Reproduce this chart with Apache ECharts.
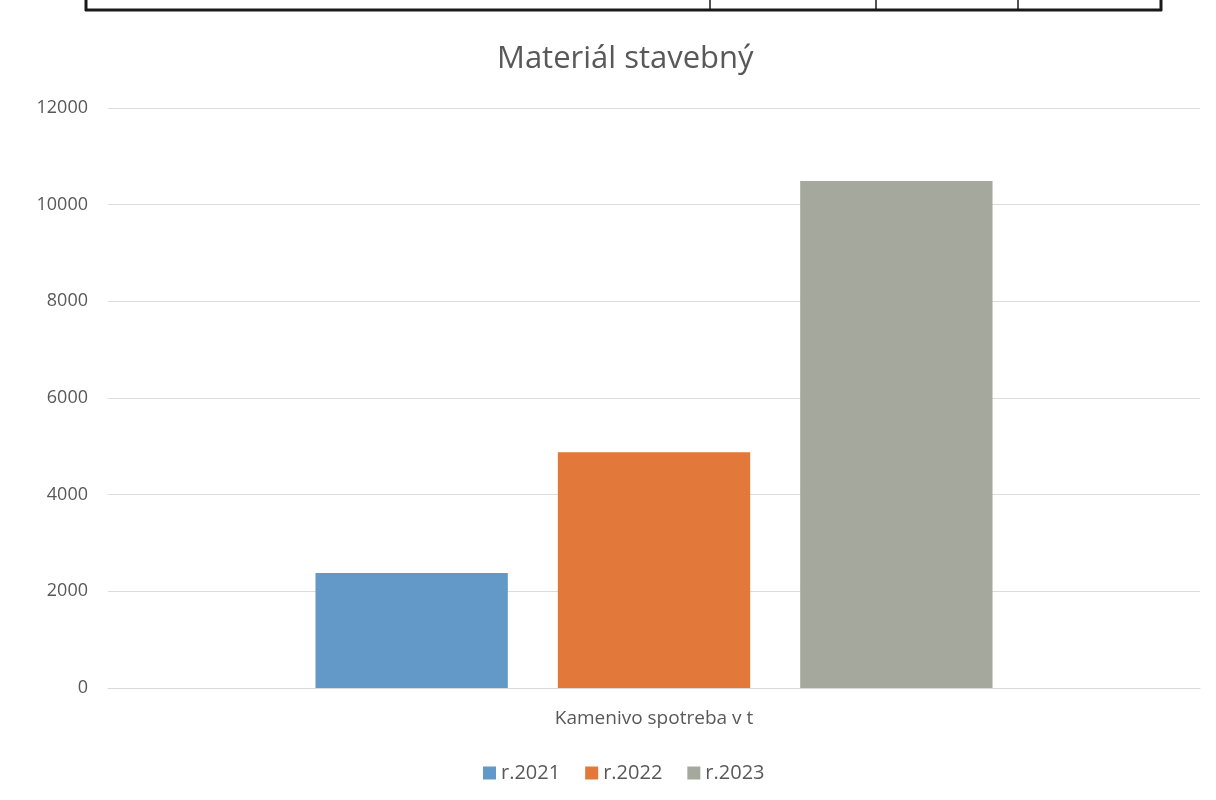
<!DOCTYPE html>
<html>
<head>
<meta charset="utf-8">
<script src="https://cdn.jsdelivr.net/npm/echarts@6/dist/echarts.min.js"></script>
<style>
  html, body { margin: 0; padding: 0; background: #ffffff; }
  #chart { width: 1216px; height: 800px; }
</style>
</head>
<body>
<div id="chart"></div>
<script>
// Consumption of building stone (tonnes) per year
const categories = ['Kamenivo spotreba v t'];
const seriesNames = ['r.2021', 'r.2022', 'r.2023'];
const values2021 = [2380];
const values2022 = [4880];
const values2023 = [10490];
const yTicks = { min: 0, max: 12000, interval: 2000 };
const colors = ['#6399c9', '#e2783a', '#a4a89d'];

const chart = echarts.init(document.getElementById('chart'));
const textColor = '#595959';
const fontFamily = '"Open Sans", "Noto Sans", sans-serif';

const seriesData = [values2021, values2022, values2023];

chart.setOption({
  animation: false,
  backgroundColor: '#ffffff',
  title: {
    text: 'Materiál stavebný',
    left: 492,
    top: 39,
    textStyle: { color: textColor, fontSize: 31, fontWeight: 'normal', fontFamily }
  },
  legend: {
    data: seriesNames,
    bottom: 12,
    left: 478,
    itemWidth: 13,
    itemHeight: 13,
    itemGap: 25,
    icon: 'rect',
    textStyle: { color: textColor, fontSize: 20, fontFamily }
  },
  grid: { left: 108, right: 16, top: 108, bottom: 112, containLabel: false },
  xAxis: {
    type: 'category',
    data: categories,
    axisLine: { show: true, lineStyle: { color: '#d9d9d9' } },
    axisTick: { show: false },
    axisLabel: { color: textColor, fontSize: 19, fontFamily, margin: 21 }
  },
  yAxis: {
    type: 'value',
    min: yTicks.min,
    max: yTicks.max,
    interval: yTicks.interval,
    axisLine: { show: false },
    axisTick: { show: false },
    axisLabel: { color: textColor, fontSize: 18, fontFamily, margin: 20, formatter: (v) => String(v) },
    splitLine: { lineStyle: { color: '#dcdcdc', width: 1 } }
  },
  series: seriesNames.map((name, i) => ({
    name,
    type: 'bar',
    data: seriesData[i],
    itemStyle: { color: colors[i] },
    barGap: '26%',
    barCategoryGap: '38%'
  })),
  graphic: [
    // ruled table edge at the top of the page
    { type: 'line', shape: { x1: 85, y1: 10, x2: 1162, y2: 10 }, style: { stroke: '#1a1a1a', lineWidth: 3 } },
    { type: 'line', shape: { x1: 86, y1: 0, x2: 86, y2: 11 }, style: { stroke: '#1a1a1a', lineWidth: 3 } },
    { type: 'line', shape: { x1: 710, y1: 0, x2: 710, y2: 10 }, style: { stroke: '#1a1a1a', lineWidth: 1.5 } },
    { type: 'line', shape: { x1: 876, y1: 0, x2: 876, y2: 10 }, style: { stroke: '#1a1a1a', lineWidth: 1.5 } },
    { type: 'line', shape: { x1: 1018, y1: 0, x2: 1018, y2: 10 }, style: { stroke: '#1a1a1a', lineWidth: 1.5 } },
    { type: 'line', shape: { x1: 1161, y1: 0, x2: 1161, y2: 11 }, style: { stroke: '#1a1a1a', lineWidth: 3 } }
  ]
});
</script>
</body>
</html>
